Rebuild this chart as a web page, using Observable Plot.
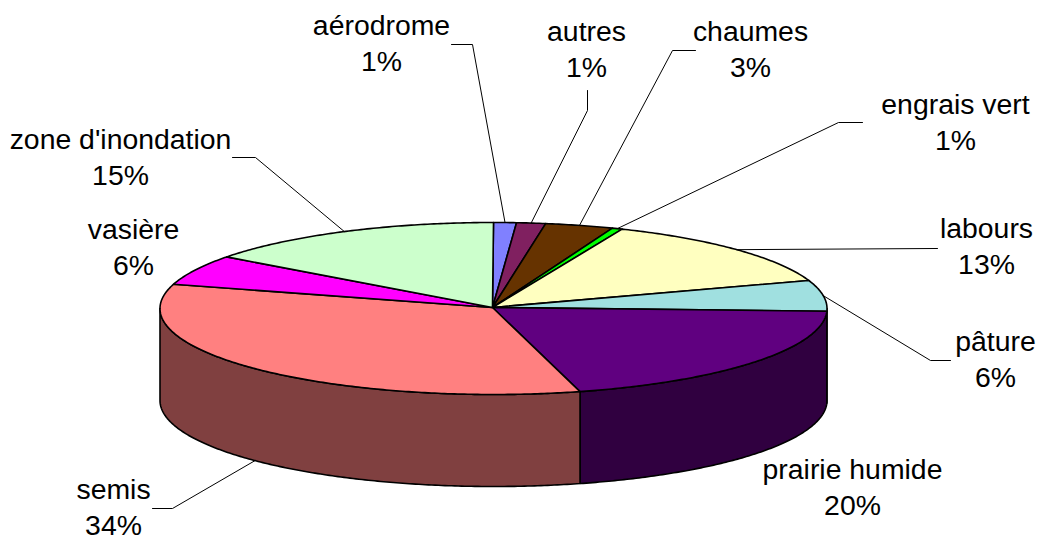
<!DOCTYPE html>
<html lang="fr">
<head>
<meta charset="utf-8">
<script src="https://cdn.jsdelivr.net/npm/d3@7"></script>
<script src="https://cdn.jsdelivr.net/npm/@observablehq/plot@0.6"></script>
<style>html,body{margin:0;padding:0;background:#fff}svg{display:block}</style>
</head>
<body>
<div id="chart"></div>
<script>
// Data, clockwise from 12 o'clock
const categories = ["aérodrome","autres","chaumes","engrais vert","labours","pâture","prairie humide","semis","vasière","zone d'inondation"];
const shares = [1.1,1.4,3.3,0.5,13.4,5.8,20.3,33.7,5.7,14.75];
const percentLabels = [1,1,3,1,13,6,20,34,6,15];
const colors = ["#8080ff","#802060","#663300","#00ff00","#ffffc0","#a0e0e0","#600080","#ff8080","#ff00ff","#ccffcc"];
const sideColors = [null,null,null,null,null,"#507070","#300040","#804040",null,null];

// Layout
const W = 1039, H = 537;
const cx = 493, cy = 308, rx = 333.5, ry = 86, depth = 92;
const labelCenters = [[381,41],[586,47],[750,47],[955,120],[986,244],[995,357],[852,485],[113,505],[133,245],[120,155]];
const leaderBends = [
  [[451,44],[472,44]], [[587,90],[587,110]], [[695,50],[672,50]], [[862,122],[838,122]],
  [[937,248]], [[950,360],[930,360]], null, [[152,508],[172,508]], null, [[232,157],[255,157]]
];

const total = d3.sum(shares);
const cum = d3.cumsum(shares);
const toAngle = s => s / total * 2 * Math.PI;
const ptTop = a => [cx + rx * Math.sin(a), cy - ry * Math.cos(a)];
const ptLow = a => [cx + rx * Math.sin(a), cy - ry * Math.cos(a) + depth];
const arc = (a0, a1, f) => {
  const n = Math.max(2, Math.ceil(Math.abs(a1 - a0) / 0.01));
  return d3.range(n + 1).map(i => f(a0 + (a1 - a0) * i / n));
};

const slices = categories.map((name, i) => {
  const a0 = toAngle(i ? cum[i - 1] : 0), a1 = toAngle(cum[i]);
  return {name, a0, a1, mid: (a0 + a1) / 2, color: colors[i], side: sideColors[i]};
});

const X = d => d[0], Y = d => d[1];
const poly = (pts, fill, sw = 1.6) => Plot.line(pts, {x: X, y: Y, fill, stroke: "#000", strokeWidth: sw, strokeLinejoin: "round", curve: "linear-closed"});

const walls = slices.filter(s => s.side).map(s => {
  const a0 = Math.max(s.a0, Math.PI / 2), a1 = Math.min(s.a1, 3 * Math.PI / 2);
  return poly([...arc(a0, a1, ptTop), ...arc(a1, a0, ptLow)], s.side);
});
const tops = slices.map(s => poly([[cx - 1, cy - 1], ...arc(s.a0, s.a1, ptTop)], s.color));

const leaders = slices.flatMap((s, i) => {
  const bend = leaderBends[i];
  if (!bend) return [];
  const onFront = s.mid > Math.PI / 2 && s.mid < 3 * Math.PI / 2;
  const end = (onFront ? ptLow : ptTop)(s.mid);
  return [Plot.line([...bend, end], {x: X, y: Y, stroke: "#000", strokeWidth: 1})];
});

const labels = categories.map((name, i) => ({
  text: `${name}\n${percentLabels[i]}%`, x: labelCenters[i][0], y: labelCenters[i][1]
}));

const chart = Plot.plot({
  width: W, height: H, margin: 0,
  style: {background: "#fff", fontFamily: "'Liberation Sans', Arial, sans-serif"},
  x: {domain: [0, W], range: [0, W], axis: null},
  y: {domain: [0, H], range: [0, H], axis: null},
  marks: [
    ...walls,
    ...tops,
    ...leaders,
    Plot.text(labels, {x: "x", y: "y", text: "text", fontSize: 28.4, lineHeight: 1.27, fill: "#000", fontFamily: "'Liberation Sans', Arial, sans-serif"})
  ]
});
document.getElementById("chart").appendChild(chart);
</script>
</body>
</html>
